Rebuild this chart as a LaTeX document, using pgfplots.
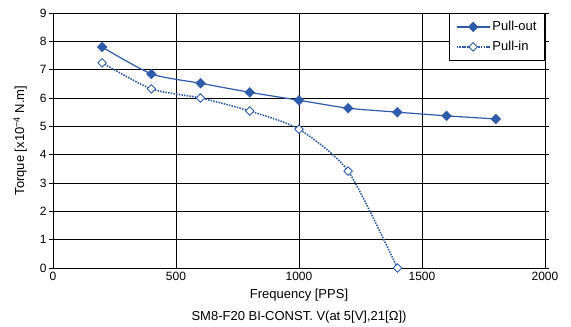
\documentclass[border=0pt]{standalone}
\usepackage{pgfplots}
\pgfplotsset{compat=1.18}
\usepackage{fontspec}
\setmainfont{Liberation Sans}
\definecolor{cblue}{HTML}{2E5CAA}
\begin{document}
\begin{tikzpicture}
\useasboundingbox (-53pt,-59pt) rectangle (518pt,268pt);
\begin{axis}[
  at={(0,0)}, anchor=south west,
  scale only axis, width=492pt, height=255pt,
  xmin=0, xmax=2000, ymin=0, ymax=9,
  xtick={0,500,...,2000}, ytick={0,1,...,9},
  grid=major, major grid style={black, line width=0.9pt},
  axis line style={black, line width=0.9pt},
  tick align=outside,
  xtick style={draw=none},
  ytick style={black, line width=0.9pt},
  major tick length=4pt,
  /pgf/number format/assume math mode=true,
  /pgf/number format/set thousands separator={},
  tick label style={font=\fontsize{12}{14}\selectfont, black},
  yticklabel style={xshift=1pt},
  xticklabel style={yshift=3pt},
  xlabel style={font=\fontsize{13}{22}\selectfont, align=center, yshift=-1pt},
  xlabel={Frequency [PPS]\\SM8-F20 BI-CONST. V(at 5[V],21[Ω])},
  ylabel style={font=\fontsize{13}{14}\selectfont, yshift=6pt},
  ylabel={Torque [x10\textsuperscript{−4} N.m]},
  legend style={at={(1,1)}, anchor=north east, draw=black, line width=0.9pt,
    font=\fontsize{13}{15}\selectfont, row sep=5pt, inner xsep=6pt, inner ysep=6pt,
    cells={anchor=west}},
  legend image code/.code={\draw[mark repeat=2,mark phase=2] plot coordinates {(0pt,0pt) (16.5pt,0pt) (33pt,0pt)};},
]
\addplot[cblue, line width=1.2pt, smooth, tension=0.4, mark=square*, mark size=3.3pt, mark options={solid, fill=cblue, line width=0.8pt, rotate=45}]
  coordinates {(200,7.80) (400,6.85) (600,6.52) (800,6.20) (1000,5.92) (1200,5.64) (1400,5.50) (1600,5.37) (1800,5.26)};
\addlegendentry{Pull-out}
\addplot[cblue, line width=1.6pt, dash pattern=on 1.5pt off 1.2pt, smooth, tension=0.4, mark=square*, mark size=3.0pt, mark options={solid, fill=white, line width=0.9pt, rotate=45}]
  coordinates {(200,7.24) (400,6.32) (600,6.00) (800,5.54) (1000,4.90) (1200,3.42) (1400,0)};
\addlegendentry{Pull-in}
\end{axis}
\end{tikzpicture}
\end{document}
